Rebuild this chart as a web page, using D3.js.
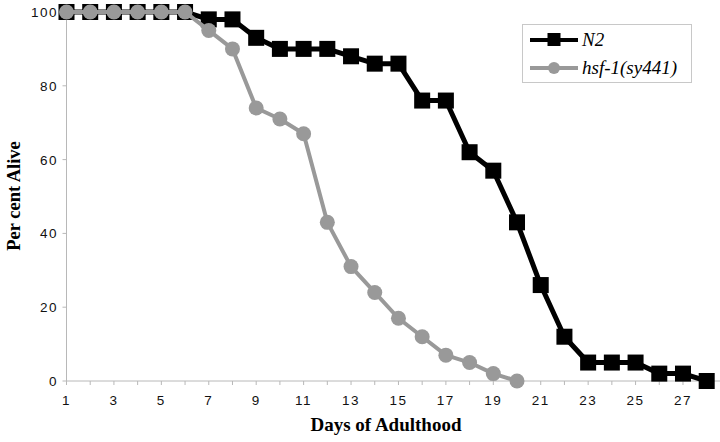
<!DOCTYPE html>
<html><head><meta charset="utf-8">
<script src="https://cdn.jsdelivr.net/npm/d3@7"></script>
<style>body{margin:0;background:#fff}</style>
</head><body>
<svg id="c" width="720" height="442"></svg>
<script>
const days = d3.range(1, 29);
const n2Values = [100,100,100,100,100,100,98,98,93,90,90,90,88,86,86,76,76,62,57,43,26,12,5,5,5,2,2,0];
const hsfDays = d3.range(1, 21);
const hsfValues = [100,100,100,100,100,100,95,90,74,71,67,43,31,24,17,12,7,5,2,0];
const xTickLabels = [1,3,5,7,9,11,13,15,17,19,21,23,25,27];
const yTickLabels = [0,20,40,60,80,100];
const seriesNames = ["N2", "hsf-1(sy441)"];

const serif = "'Liberation Serif', 'Times New Roman', Times, serif";
const sans = "'Liberation Sans', Arial, sans-serif";

const svg = d3.select("#c");
const x = d3.scaleLinear().domain([1, 28]).range([66.5, 706.7]);
const y = d3.scaleLinear().domain([0, 100]).range([381, 12]);

// axes
const axisColor = "#b8b8b8";
svg.append("line").attr("x1", x(1)).attr("x2", 720).attr("y1", y(0)).attr("y2", y(0))
  .attr("stroke", axisColor).attr("stroke-width", 1);
svg.append("line").attr("x1", x(1)).attr("x2", x(1)).attr("y1", y(100)).attr("y2", y(0))
  .attr("stroke", axisColor).attr("stroke-width", 1);
const allTicks = d3.range(1, 29);
svg.append("g").selectAll("line").data(allTicks).join("line")
  .attr("x1", d => x(d)).attr("x2", d => x(d)).attr("y1", y(0)).attr("y2", y(0) + 4)
  .attr("stroke", axisColor);
svg.append("g").selectAll("text").data(xTickLabels).join("text")
  .attr("x", d => x(d)).attr("y", 405).attr("text-anchor", "middle")
  .attr("font-family", sans).attr("font-size", 13.5)
  .attr("letter-spacing", 1.5).attr("fill", "#111").text(d => d);
svg.append("g").selectAll("line").data(yTickLabels).join("line")
  .attr("x1", x(1) - 4).attr("x2", x(1)).attr("y1", d => y(d)).attr("y2", d => y(d))
  .attr("stroke", axisColor);
svg.append("g").selectAll("text").data(yTickLabels).join("text")
  .attr("x", 58).attr("y", d => y(d) + 5).attr("text-anchor", "end")
  .attr("font-family", sans).attr("font-size", 13.5)
  .attr("letter-spacing", 1.5).attr("fill", "#111").text(d => d);

// titles
svg.append("text").attr("x", 386).attr("y", 431).attr("text-anchor", "middle")
  .attr("font-family", serif).attr("font-weight", "bold")
  .attr("font-size", 19).text("Days of Adulthood");
svg.append("text").attr("transform", "translate(20,196) rotate(-90)").attr("text-anchor", "middle")
  .attr("font-family", serif).attr("font-weight", "bold")
  .attr("font-size", 18.5).text("Per cent Alive");

const line = d3.line().x(d => x(d[0])).y(d => y(d[1]));
const n2 = days.map((d, i) => [d, n2Values[i]]);
const hsf = hsfDays.map((d, i) => [d, hsfValues[i]]);

// N2
svg.append("path").datum(n2).attr("d", line).attr("fill", "none")
  .attr("stroke", "#000").attr("stroke-width", 5).attr("stroke-linejoin", "round");
const sq = 16;
svg.append("g").selectAll("rect").data(n2).join("rect")
  .attr("x", d => x(d[0]) - sq / 2).attr("y", d => y(d[1]) - sq / 2)
  .attr("width", sq).attr("height", sq).attr("fill", "#000");

// hsf
svg.append("path").datum(hsf).attr("d", line).attr("fill", "none")
  .attr("stroke", "#999").attr("stroke-width", 4).attr("stroke-linejoin", "round");
svg.append("g").selectAll("circle").data(hsf).join("circle")
  .attr("cx", d => x(d[0])).attr("cy", d => y(d[1])).attr("r", 7.5).attr("fill", "#999");

// legend
const lg = svg.append("g");
lg.append("rect").attr("x", 522.5).attr("y", 24.5).attr("width", 169).attr("height", 58)
  .attr("fill", "#fff").attr("stroke", "#c8c8c8");
lg.append("line").attr("x1", 530).attr("x2", 578).attr("y1", 40).attr("y2", 40)
  .attr("stroke", "#000").attr("stroke-width", 4);
lg.append("rect").attr("x", 547.5).attr("y", 33).attr("width", 13).attr("height", 13).attr("fill", "#000");
lg.append("line").attr("x1", 530).attr("x2", 578).attr("y1", 68).attr("y2", 68)
  .attr("stroke", "#999").attr("stroke-width", 4);
lg.append("circle").attr("cx", 554).attr("cy", 68).attr("r", 6).attr("fill", "#999");
lg.selectAll("text.lab").data(seriesNames).join("text").attr("class", "lab")
  .attr("x", 582).attr("y", (d, i) => 46 + i * 28)
  .attr("font-family", serif).attr("font-style", "italic")
  .attr("font-size", 19).text(d => d);
</script>
</body></html>
